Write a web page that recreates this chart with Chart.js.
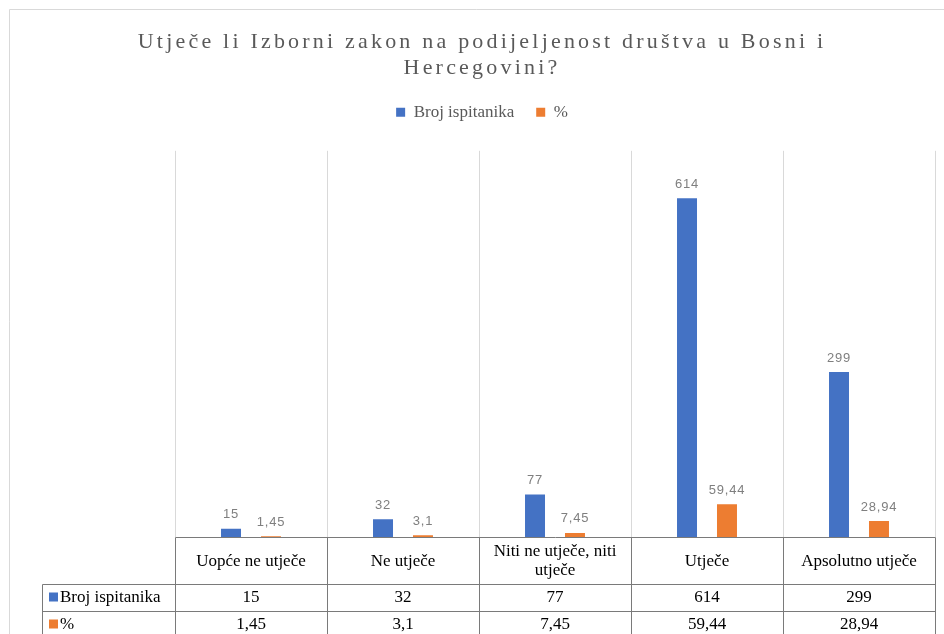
<!DOCTYPE html>
<html>
<head>
<meta charset="utf-8">
<script src="https://cdn.jsdelivr.net/npm/chart.js@4.4.1/dist/chart.umd.min.js"></script>
<style>
  html, body { margin: 0; padding: 0; background: #ffffff; }
  #wrap { position: relative; width: 944px; height: 634px; }
  canvas { display: block; }
</style>
</head>
<body>
<div id="wrap"><canvas id="c" width="944" height="634"></canvas></div>
<script>
// ---- Data ----
const categories = ["Uopće ne utječe", "Ne utječe", "Niti ne utječe, niti utječe", "Utječe", "Apsolutno utječe"];
const categoryLines = [["Uopće ne utječe"], ["Ne utječe"], ["Niti ne utječe, niti", "utječe"], ["Utječe"], ["Apsolutno utječe"]];
const seriesNames = ["Broj ispitanika", "%"];
const brojIspitanika = [15, 32, 77, 614, 299];
const postotak = [1.45, 3.1, 7.45, 59.44, 28.94];
const titleLines = ["Utječe li Izborni zakon na podijeljenost društva u Bosni i", "Hercegovini?"];

const BLUE = "#4472C4";
const ORANGE = "#ED7D31";
const fmt = v => String(v).replace(".", ",");

// Frame around the chart object
const framePlugin = {
  id: "frame",
  beforeDraw(chart) {
    const ctx = chart.ctx;
    ctx.save();
    ctx.fillStyle = "#ffffff";
    ctx.fillRect(0, 0, chart.width, chart.height);
    ctx.strokeStyle = "#d9d9d9";
    ctx.lineWidth = 1;
    ctx.beginPath();
    ctx.moveTo(9.5, chart.height);
    ctx.lineTo(9.5, 9.5);
    ctx.lineTo(chart.width, 9.5);
    ctx.stroke();
    ctx.restore();
    // letter-spaced title
    const tb = chart.titleBlock;
    if (tb && !tb._spaced) {
      const orig = tb.draw;
      tb.draw = function () {
        const c = this.ctx;
        c.save();
        c.letterSpacing = "3.2px";
        orig.apply(this, arguments);
        c.restore();
      };
      tb._spaced = true;
    }
  }
};

// Value labels above bars
const valueLabels = {
  id: "valueLabels",
  afterDatasetsDraw(chart) {
    const ctx = chart.ctx;
    ctx.save();
    ctx.font = "13px 'Liberation Sans', Arial, sans-serif";
    ctx.letterSpacing = "0.8px";
    ctx.fillStyle = "#7f7f7f";
    ctx.textAlign = "center";
    ctx.textBaseline = "middle";
    chart.data.datasets.forEach((ds, di) => {
      const meta = chart.getDatasetMeta(di);
      meta.data.forEach((el, i) => {
        ctx.fillText(fmt(ds.data[i]), el.x, el.y - 14);
      });
    });
    ctx.restore();
  }
};

// Data table under the plot
const dataTable = {
  id: "dataTable",
  afterDraw(chart) {
    const ctx = chart.ctx;
    const xs = chart.scales.x;
    const area = chart.chartArea;
    const n = categories.length;
    const cw = (area.right - area.left) / n;
    const top = area.bottom;
    const r1 = top + 47;
    const r2 = r1 + 27;
    const r3 = r2 + 27;
    const labelLeft = 42;
    ctx.save();
    ctx.strokeStyle = "#7a7a7a";
    ctx.lineWidth = 1;
    const line = (x1, y1, x2, y2) => {
      ctx.beginPath();
      ctx.moveTo(Math.round(x1) + 0.5, Math.round(y1) + 0.5);
      ctx.lineTo(Math.round(x2) + 0.5, Math.round(y2) + 0.5);
      ctx.stroke();
    };
    // horizontal lines
    line(area.left, top, area.right, top);
    line(labelLeft, r1, area.right, r1);
    line(labelLeft, r2, area.right, r2);
    line(labelLeft, r3, area.right, r3);
    // vertical lines
    for (let i = 0; i <= n; i++) {
      const x = xs.getPixelForValue(0) - cw / 2 + i * cw;
      line(x, top, x, chart.height);
    }
    line(labelLeft, r1, labelLeft, chart.height);

    ctx.fillStyle = "#000000";
    ctx.textAlign = "center";
    ctx.textBaseline = "middle";
    ctx.font = "17px 'Liberation Serif', 'Times New Roman', serif";
    categoryLines.forEach((lines, i) => {
      const cx = xs.getPixelForValue(i);
      const mid = (top + r1) / 2 + 1;
      const lh = 19;
      lines.forEach((t, k) => {
        ctx.fillText(t, cx, mid + (k - (lines.length - 1) / 2) * lh);
      });
      ctx.fillText(fmt(brojIspitanika[i]), cx, (r1 + r2) / 2);
      ctx.fillText(fmt(postotak[i]), cx, (r2 + r3) / 2);
    });
    // row labels
    ctx.textAlign = "left";
    const rows = [[seriesNames[0], BLUE, (r1 + r2) / 2], [seriesNames[1], ORANGE, (r2 + r3) / 2]];
    rows.forEach(([t, col, y]) => {
      ctx.fillStyle = col;
      ctx.fillRect(labelLeft + 7, y - 5, 9, 9);
      ctx.fillStyle = "#000000";
      ctx.fillText(t, labelLeft + 18, y);
    });
    ctx.restore();
  }
};

new Chart(document.getElementById("c"), {
  type: "bar",
  data: {
    labels: categories,
    datasets: [
      { label: seriesNames[0], data: brojIspitanika, backgroundColor: BLUE, borderWidth: 0 },
      { label: seriesNames[1], data: postotak, backgroundColor: ORANGE, borderWidth: 0 }
    ]
  },
  options: {
    responsive: false,
    animation: false,
    devicePixelRatio: 1,
    categoryPercentage: 0.526,
    barPercentage: 0.5,
    layout: { padding: { left: 29, right: 9, top: 0, bottom: 97 } },
    plugins: {
      title: {
        display: true,
        text: titleLines,
        color: "#595959",
        font: { family: "'Liberation Serif', 'Times New Roman', serif", size: 22, weight: "normal", lineHeight: 1.2 },
        padding: { top: 29, bottom: 0 }
      },
      legend: {
        display: true,
        position: "top",
        labels: {
          boxWidth: 9,
          boxHeight: 9,
          padding: 22,
          color: "#595959",
          font: { family: "'Liberation Serif', 'Times New Roman', serif", size: 17 }
        }
      },
      subtitle: {
        display: true,
        text: " ",
        weight: 500,
        font: { size: 10 },
        padding: { top: 0, bottom: 8 }
      },
      tooltip: { enabled: false }
    },
    scales: {
      x: {
        offset: true,
        grid: { display: true, color: "#d9d9d9", lineWidth: 1, drawTicks: false, offset: true },
        border: { display: false },
        ticks: { display: false },
        afterFit(s) { s.height = 0; }
      },
      y: {
        min: 0,
        max: 700,
        grid: { display: false, drawTicks: false },
        border: { display: false },
        ticks: { display: false },
        afterFit(s) { s.width = 146; }
      }
    }
  },
  plugins: [framePlugin, valueLabels, dataTable]
});
</script>
</body>
</html>
